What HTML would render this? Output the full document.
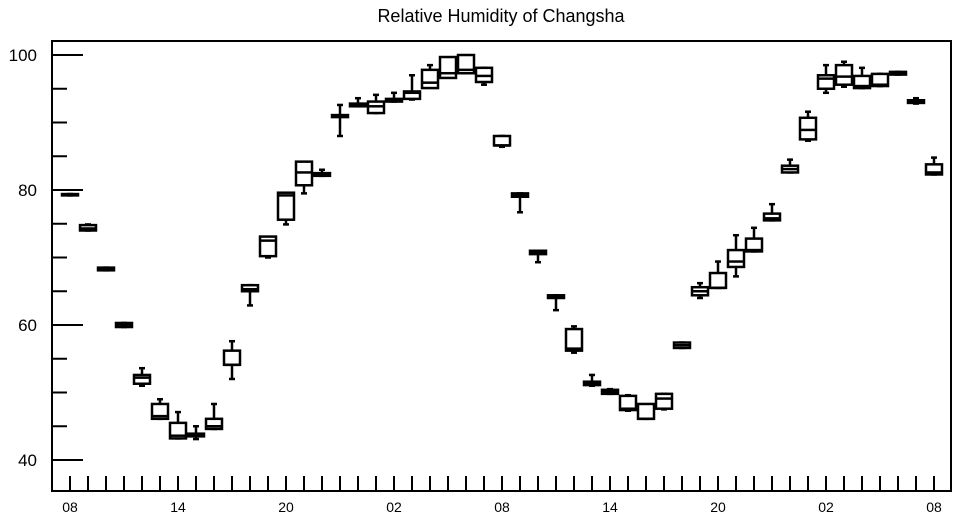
<!DOCTYPE html>
<html><head><meta charset="utf-8"><style>
html,body{margin:0;padding:0;background:#fff;}
svg{display:block;font-family:"Liberation Sans",Arial,sans-serif;}
</style></head><body>
<svg id="chart" width="957" height="520" viewBox="0 0 957 520" xmlns="http://www.w3.org/2000/svg">
<text x="501" y="22" text-anchor="middle" font-size="18">Relative Humidity of Changsha</text>
<g id="axes"></g>
<g id="boxes"></g>
</svg>
<script>
const mins = [79.2,74.0,68.1,59.7,51.0,46.1,43.2,43.1,44.6,52.0,62.9,70.0,74.9,79.5,82.1,88.0,92.4,91.4,93.1,93.4,95.9,97.3,97.3,95.6,86.4,76.7,69.3,62.2,55.9,51.0,49.8,47.3,46.1,47.5,56.6,64.0,65.5,67.2,70.9,75.5,82.6,87.3,94.4,95.3,95.1,95.4,97.1,92.8,82.3];
const q1s = [79.2,74.0,68.1,59.7,51.3,46.1,43.2,43.5,44.6,54.1,65.0,70.2,75.6,80.7,82.1,90.8,92.4,91.4,93.1,93.5,95.1,96.6,97.3,96.0,86.6,79.0,70.5,64.0,56.2,51.1,49.8,47.4,46.1,47.6,56.6,64.4,65.5,68.6,70.9,75.5,82.6,87.5,95.0,95.6,95.1,95.4,97.1,92.9,82.3];
const medians = [79.3,74.3,68.3,60.0,52.2,46.5,43.6,43.8,45.0,54.1,65.3,72.5,79.2,82.6,82.3,91.0,92.6,92.4,93.3,94.4,95.9,97.3,97.8,96.9,86.6,79.3,70.8,64.2,56.5,51.4,50.1,47.6,46.1,49.1,57.0,65.0,65.5,69.4,71.1,75.8,83.1,88.9,96.5,96.8,95.4,95.6,97.3,93.1,82.6];
const q3s = [79.4,74.8,68.5,60.3,52.6,48.3,45.5,43.9,46.1,56.2,65.9,73.1,79.6,84.2,82.5,91.1,92.8,93.1,93.5,94.6,97.8,99.7,100.0,98.1,88.0,79.5,71.0,64.4,59.4,51.6,50.4,49.5,48.3,49.8,57.4,65.6,67.7,71.1,72.8,76.5,83.6,90.7,97.0,98.5,96.9,97.2,97.5,93.3,83.8];
const maxs = [79.4,74.9,68.5,60.3,53.6,49.0,47.1,45.0,48.3,57.6,65.9,72.5,79.2,83.6,83.0,92.6,93.6,94.1,94.4,97.0,98.5,98.4,99.0,98.1,88.0,79.5,71.0,64.4,59.8,52.6,50.5,49.6,48.2,49.8,57.4,66.2,69.4,73.3,74.4,77.9,84.5,91.6,98.5,99.0,98.1,97.2,97.5,93.6,84.8];
const yTicks = [40,60,80,100];
const xLabels = ["08","14","20","02","08","14","20","02","08"];

const NS="http://www.w3.org/2000/svg";
const X0=52, X1=951, Y0=41, Y1=491;
function xPos(i){return 70+18*i;}
function yPos(v){return 55+(100-v)*6.75;}
function mk(tag,attrs,parent){const e=document.createElementNS(NS,tag);for(const k in attrs)e.setAttribute(k,attrs[k]);parent.appendChild(e);return e;}
const axes=document.getElementById('axes');
const frame=mk('rect',{x:X0,y:Y0,width:X1-X0,height:Y1-Y0,fill:'none',stroke:'#000','stroke-width':2},axes);


for(let v=40;v<=100;v+=5){
  const major=yTicks.includes(v);
  const t=mk('line',{x1:X0,x2:X0+(major?31:15),y1:yPos(v),y2:yPos(v),stroke:'#000','stroke-width':2},axes);
  
  
}
yTicks.forEach(v=>{
  const t=mk('text',{x:37,y:yPos(v)+6,'text-anchor':'end','font-size':17},axes);
  t.textContent=v;
  
  
});
for(let i=0;i<medians.length;i++){
  const t=mk('line',{x1:xPos(i),x2:xPos(i),y1:Y1-15,y2:Y1,stroke:'#000','stroke-width':2},axes);
  
  
}
xLabels.forEach((s,k)=>{
  const t=mk('text',{x:xPos(k*6),y:512,'text-anchor':'middle','font-size':14},axes);
  t.textContent=s;
  
  
});
const boxes=document.getElementById('boxes');
for(let i=0;i<medians.length;i++){
  const g=mk('g',{stroke:'#000','stroke-width':2.5,fill:'none'},boxes);
  
  
  const cx=xPos(i), hw=8;
  const yq1=yPos(q1s[i]), yq3=yPos(q3s[i]);
  mk('line',{x1:cx,x2:cx,y1:yPos(maxs[i]),y2:yPos(mins[i])},g);
  mk('line',{x1:cx-3,x2:cx+3,y1:yPos(maxs[i]),y2:yPos(maxs[i])},g);
  mk('line',{x1:cx-3,x2:cx+3,y1:yPos(mins[i]),y2:yPos(mins[i])},g);
  mk('rect',{x:cx-hw,y:yq3,width:2*hw,height:Math.max(yq1-yq3,1),fill:'#fff'},g);
  mk('line',{x1:cx-hw,x2:cx+hw,y1:yPos(medians[i]),y2:yPos(medians[i])},g);
}
</script>
</body></html>
